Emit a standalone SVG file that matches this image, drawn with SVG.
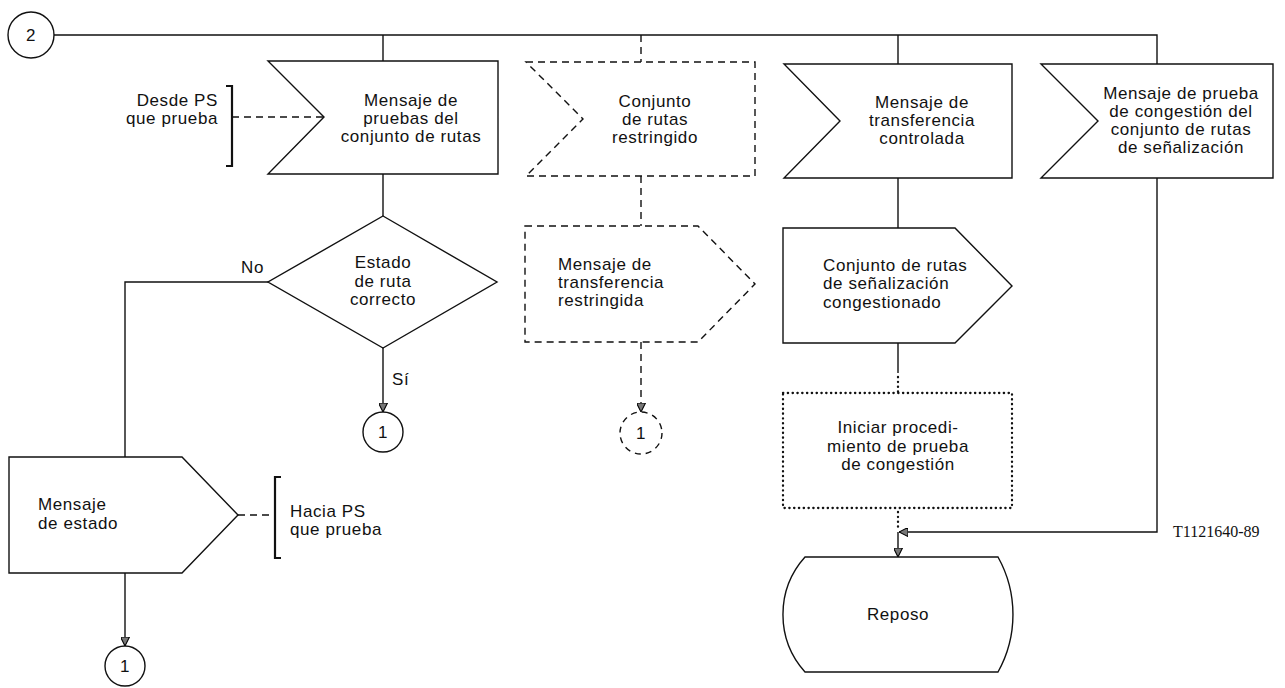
<svg xmlns="http://www.w3.org/2000/svg" width="1285" height="688" viewBox="0 0 1285 688">
<defs>
<marker id="arr" viewBox="0 0 10 10" refX="10" refY="5" markerWidth="9" markerHeight="9" markerUnits="userSpaceOnUse" orient="auto">
<path d="M0,0 L10,5 L0,10 Z" fill="#777" stroke="#000" stroke-width="1.2"/>
</marker>
<style>
.s{fill:#fff;stroke:#111;stroke-width:1.4}
.d{fill:#fff;stroke:#111;stroke-width:1.4;stroke-dasharray:7 5}
.o{fill:#fff;stroke:#111;stroke-width:2.3;stroke-dasharray:0.3 4.5;stroke-linecap:round}
.l{fill:none;stroke:#111;stroke-width:1.4}
.ld{fill:none;stroke:#111;stroke-width:1.4;stroke-dasharray:7 5}
.lo{fill:none;stroke:#111;stroke-width:2.3;stroke-dasharray:0.3 4.5;stroke-linecap:round}
.b{fill:none;stroke:#111;stroke-width:2.2}
text{font-family:"Liberation Sans",Arial,sans-serif;font-size:17px;fill:#111;letter-spacing:0.6px}
.c{text-anchor:middle}
.r{text-anchor:end}
.serif{font-family:"Liberation Serif","Times New Roman",serif;font-size:16px;letter-spacing:0}
</style>
</defs>

<g id="connectors">
<path class="l" d="M54,35 H1157 V64"/>
<path class="l" d="M383,35 V61"/>
<path class="ld" d="M641,35 V62"/>
<path class="l" d="M898,35 V64"/>
<path class="l" d="M383,174 V216"/>
<path class="l" d="M268,282 H125 V457"/>
<path class="l" d="M383,348 V412" marker-end="url(#arr)"/>
<path class="l" d="M125,573 V646" marker-end="url(#arr)"/>
<path class="ld" d="M232,117 H324"/>
<path class="ld" d="M238,515 H275"/>
<path class="ld" d="M641,176 V226"/>
<path class="ld" d="M641,342 V412" marker-end="url(#arr)"/>
<path class="l" d="M898,178 V228"/>
<path class="l" d="M898,343 V373"/>
<path class="lo" d="M898,377 V393"/>
<path class="lo" d="M898,512 V530"/>
<path class="l" d="M898,532 V557" marker-end="url(#arr)"/>
<path class="l" d="M1157,178 V532 H899" marker-end="url(#arr)"/>
</g>

<g id="start2">
<circle class="s" cx="31" cy="35" r="23"/>
<text class="c" x="31" y="41">2</text>
</g>

<g id="in1">
<polygon class="s" points="268,61 498,61 498,174 268,174 324,117"/>
<text class="c" x="411" y="106">Mensaje de</text>
<text class="c" x="411" y="124">pruebas del</text>
<text class="c" x="411" y="142">conjunto de rutas</text>
</g>

<g id="desde">
<path class="b" d="M226,86 H232 V166 H226"/>
<text class="r" x="218" y="106">Desde PS</text>
<text class="r" x="218" y="124">que prueba</text>
</g>

<g id="in2">
<polygon class="d" points="526,62 755,62 755,176 526,176 583,119"/>
<text class="c" x="655" y="107">Conjunto</text>
<text class="c" x="655" y="125">de rutas</text>
<text class="c" x="655" y="143">restringido</text>
</g>

<g id="in3">
<polygon class="s" points="784,64 1012,64 1012,178 784,178 840,121"/>
<text class="c" x="922" y="108">Mensaje de</text>
<text class="c" x="922" y="126">transferencia</text>
<text class="c" x="922" y="144">controlada</text>
</g>

<g id="in4">
<polygon class="s" points="1041,64 1273,64 1273,178 1041,178 1098,121"/>
<text class="c" x="1181" y="99">Mensaje de prueba</text>
<text class="c" x="1181" y="117">de congestión del</text>
<text class="c" x="1181" y="135">conjunto de rutas</text>
<text class="c" x="1181" y="153">de señalización</text>
</g>

<g id="decision">
<polygon class="s" points="383,216 497,282 383,348 268,282"/>
<text class="c" x="383" y="268">Estado</text>
<text class="c" x="383" y="287">de ruta</text>
<text class="c" x="383" y="305">correcto</text>
<text class="r" x="264" y="273">No</text>
<text x="392" y="385">Sí</text>
</g>

<g id="conn1a">
<circle class="s" cx="383" cy="432" r="20"/>
<text class="c" x="383" y="438">1</text>
</g>

<g id="out1">
<polygon class="s" points="9,457 182,457 238,515 182,573 9,573"/>
<text x="38" y="510">Mensaje</text>
<text x="38" y="529">de estado</text>
</g>

<g id="hacia">
<path class="b" d="M281,477 H275 V558 H281"/>
<text x="290" y="517">Hacia PS</text>
<text x="290" y="535">que prueba</text>
</g>

<g id="conn1c">
<circle class="s" cx="125" cy="666" r="20"/>
<text class="c" x="125" y="672">1</text>
</g>

<g id="out2">
<polygon class="d" points="525,226 698,226 755,284 698,342 525,342"/>
<text x="558" y="270">Mensaje de</text>
<text x="558" y="288">transferencia</text>
<text x="558" y="306">restringida</text>
</g>

<g id="conn1b">
<circle class="d" cx="641" cy="433" r="21" style="stroke-dasharray:6 5"/>
<text class="c" x="641" y="439">1</text>
</g>

<g id="out3">
<polygon class="s" points="783,228 955,228 1012,286 955,343 783,343"/>
<text x="823" y="271">Conjunto de rutas</text>
<text x="823" y="289">de señalización</text>
<text x="823" y="308">congestionado</text>
</g>

<g id="task">
<rect class="o" x="783" y="393" width="229" height="115"/>
<text class="c" x="898" y="433">Iniciar procedi-</text>
<text class="c" x="898" y="452">miento de prueba</text>
<text class="c" x="898" y="470">de congestión</text>
</g>

<g id="reposo">
<path class="s" d="M805,557 H998 A118,118 0 0 1 998,672 H805 A86,86 0 0 1 805,557 Z"/>
<text class="c" x="898" y="620">Reposo</text>
</g>

<text class="serif" x="1173" y="537">T1121640-89</text>
</svg>
